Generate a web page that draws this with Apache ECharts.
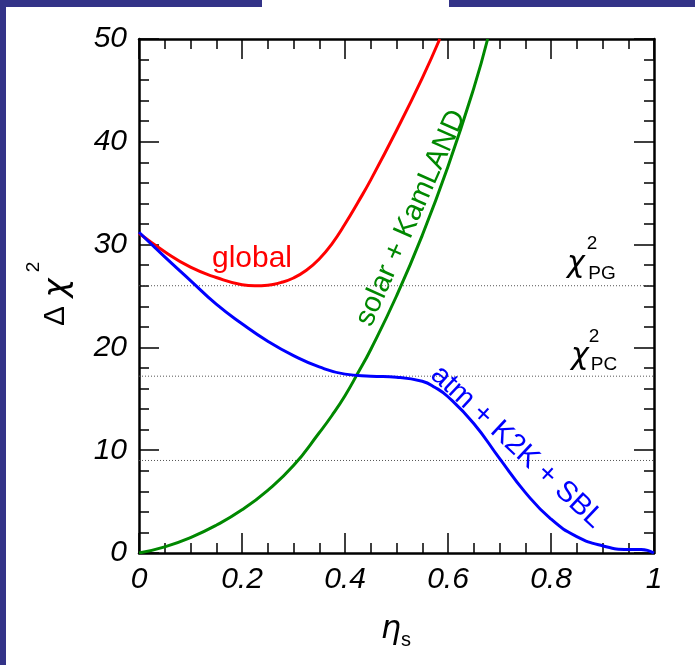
<!DOCTYPE html>
<html>
<head>
<meta charset="utf-8">
<script src="https://cdn.jsdelivr.net/npm/echarts@6/dist/echarts.min.js"></script>
<style>
html,body{margin:0;padding:0;background:#fff;}
#c{width:695px;height:665px;}
</style>
</head>
<body>
<div id="c"></div>
<script>
// ---- data ----
const globalEta  = [0, 0.05, 0.1, 0.15, 0.2, 0.225, 0.25, 0.275, 0.3, 0.325, 0.35, 0.375, 0.4, 0.425, 0.45, 0.5, 0.55, 0.584];
const globalChi2 = [31.1, 29.3, 27.8, 26.8, 26.1, 26.0, 26.05, 26.3, 26.75, 27.5, 28.6, 30.1, 32.0, 34.1, 36.3, 41.1, 46.2, 50];

const solarEta  = [0, 0.05, 0.1, 0.15, 0.2, 0.25, 0.3, 0.35, 0.375, 0.4, 0.425, 0.45, 0.5, 0.55, 0.6, 0.65, 0.677];
const solarChi2 = [0, 0.6, 1.5, 2.7, 4.2, 6.1, 8.5, 11.7, 13.4, 15.3, 17.5, 19.8, 25.0, 30.9, 37.6, 45.2, 50];

const atmEta  = [0, 0.05, 0.1, 0.15, 0.2, 0.25, 0.3, 0.35, 0.4, 0.45, 0.5, 0.55, 0.575, 0.6, 0.65, 0.7, 0.75, 0.8, 0.85, 0.9, 0.95, 0.975, 1.0];
const atmChi2 = [31.2, 28.8, 26.5, 24.2, 22.3, 20.6, 19.2, 18.1, 17.4, 17.2, 17.1, 16.7, 16.1, 15.2, 12.6, 9.2, 5.9, 3.3, 1.6, 0.7, 0.35, 0.35, 0];

const refLevels = [26.0, 17.2, 9.0];     // chi2_PG, chi2_PC, lowest dotted line
const xTickLabels = ['0', '0.2', '0.4', '0.6', '0.8', '1'];
const yTickLabels = ['0', '10', '20', '30', '40', '50'];

// ---- chart ----
const chart = echarts.init(document.getElementById('c'), null, {renderer: 'canvas'});
const pair = (xs, ys) => xs.map((x, i) => [x, ys[i]]);
const tickFont = {fontFamily: 'Liberation Sans', fontStyle: 'italic', fontSize: 30, color: '#000'};

function xAx(pos, labels) {
  return {
    type: 'value', min: 0, max: 1, interval: 0.2, position: pos,
    axisLine: {show: true, onZero: false, lineStyle: {color: '#000', width: 2.5}},
    axisTick: {show: true, inside: true, length: 20, lineStyle: {color: '#000', width: 1.5}},
    minorTick: {show: true, splitNumber: 4, length: 10, lineStyle: {color: '#000', width: 1.5}},
    splitLine: {show: false},
    axisLabel: labels ? Object.assign({show: true, margin: 12,
      formatter: v => xTickLabels[Math.round(v / 0.2)]}, tickFont) : {show: false}
  };
}
function yAx(pos, labels) {
  return {
    type: 'value', min: 0, max: 50, interval: 10, position: pos,
    axisLine: {show: true, onZero: false, lineStyle: {color: '#000', width: 2.5}},
    axisTick: {show: true, inside: true, length: 20, lineStyle: {color: '#000', width: 1.5}},
    minorTick: {show: true, splitNumber: 5, length: 10, lineStyle: {color: '#000', width: 1.5}},
    splitLine: {show: false},
    axisLabel: labels ? Object.assign({show: true, margin: 12,
      formatter: v => yTickLabels[Math.round(v / 10)]}, tickFont) : {show: false}
  };
}

const refSeries = refLevels.map(v => ({
  type: 'line', data: [[0, v], [1, v]], showSymbol: false, silent: true,
  lineStyle: {color: '#555', width: 1, type: [1, 2]}, z: 1
}));

function curve(xs, ys, color) {
  return {
    type: 'line', data: pair(xs, ys), showSymbol: false, smooth: 0.5,
    lineStyle: {color: color, width: 3}, clip: true, z: 3
  };
}

const navy = '#333388';
const sans = '"Liberation Sans"';
const greek = '"DejaVu Sans"';
const T = (x, y, text, font, fill, extra) => Object.assign({type: 'text', x: x, y: y,
  style: {text: text, font: font, fill: fill || '#000', textAlign: 'center', textVerticalAlign: 'middle'}}, extra || {});

chart.setOption({
  animation: false,
  backgroundColor: '#fff',
  grid: {left: 139, top: 39, right: 41, bottom: 112, containLabel: false},
  xAxis: [xAx('bottom', true), xAx('top', false)],
  yAxis: [yAx('left', true), yAx('right', false)],
  series: refSeries.concat([
    curve(globalEta, globalChi2, '#ff0000'),
    curve(solarEta, solarChi2, '#008800'),
    curve(atmEta, atmChi2, '#0000ff')
  ]),
  graphic: [
    {type: 'rect', shape: {x: 0, y: 0, width: 6, height: 665}, style: {fill: navy}, silent: true},
    {type: 'rect', shape: {x: 0, y: 0, width: 262, height: 7}, style: {fill: navy}, silent: true},
    {type: 'rect', shape: {x: 449, y: 0, width: 246, height: 7}, style: {fill: navy}, silent: true},
    // y axis title: Δχ²
    {type: 'group', x: 56, y: 300, rotation: Math.PI / 2, children: [
      T(-16, 0, 'Δ', '30px ' + sans),
      T(12, 2, 'χ', 'oblique 32px ' + greek),
      T(33, -22, '2', '19px ' + sans)
    ]},
    // x axis title: η_s
    T(391, 630, 'η', 'oblique 32px ' + greek),
    T(406, 640, 's', '20px ' + sans),
    // chi2_PG
    T(576, 264, 'χ', 'oblique 30px ' + greek),
    T(592, 244, '2', '19px ' + sans),
    T(602, 274, 'PG', '19px ' + sans),
    // chi2_PC
    T(580, 356, 'χ', 'oblique 30px ' + greek),
    T(594, 337, '2', '19px ' + sans),
    T(604, 365, 'PC', '19px ' + sans),
    // curve labels
    T(252, 259, 'global', '30px ' + sans, '#ff0000'),
    T(411, 218, 'solar + KamLAND', '29px ' + sans, '#008800', {rotation: 66 * Math.PI / 180}),
    T(517, 447, 'atm + K2K + SBL', '29px ' + sans, '#0000ff', {rotation: -43 * Math.PI / 180})
  ]
});
</script>
</body>
</html>
